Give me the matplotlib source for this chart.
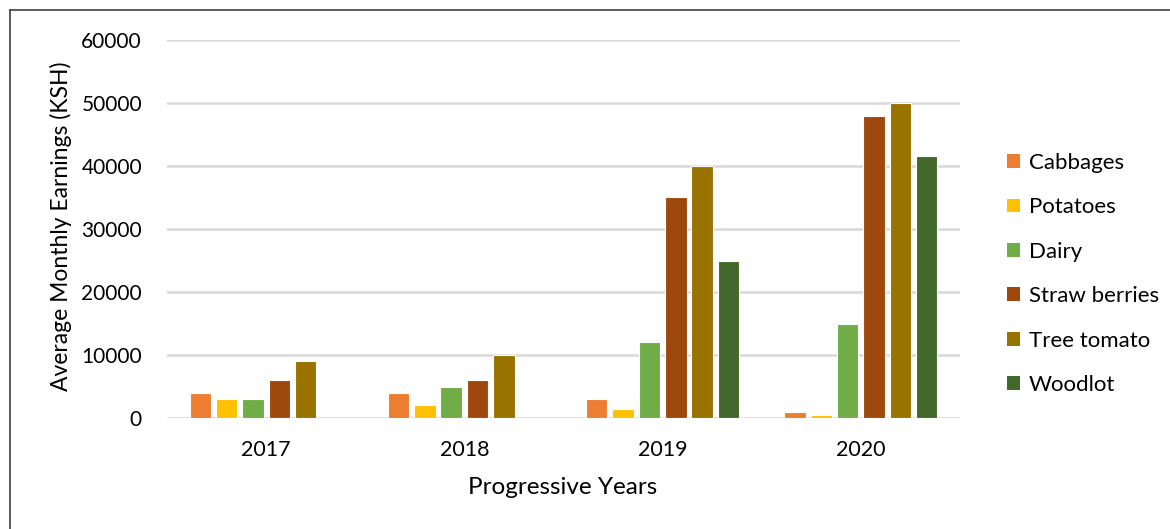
import matplotlib
matplotlib.use("Agg")
import matplotlib.pyplot as plt
from matplotlib.lines import Line2D
from matplotlib.patches import Patch
import numpy as np

plt.rcParams['font.family'] = ['Lato', 'DejaVu Sans']

years = ["2017", "2018", "2019", "2020"]
series_names = ["Cabbages", "Potatoes", "Dairy", "Straw berries", "Tree tomato", "Woodlot"]
cabbages = [4000, 4000, 3000, 900]
potatoes = [3000, 2000, 1500, 450]
dairy = [3000, 5000, 12000, 15000]
strawberries = [6000, 6000, 35000, 48000]
tree_tomato = [9000, 10000, 40000, 50000]
woodlot = [0, 0, 25000, 41600]
series_values = [cabbages, potatoes, dairy, strawberries, tree_tomato, woodlot]
colors = ["#ED7D31", "#FFC000", "#70AD47", "#9E480E", "#997300", "#43682B"]
yticks = [0, 10000, 20000, 30000, 40000, 50000, 60000]

W, H = 1170, 529
fig = plt.figure(figsize=(W/100, H/100), dpi=100)
ax = fig.add_axes([167/W, 1-418/H, (960-167)/W, (418-40)/H])

x = np.arange(len(years))
pitch = 0.133
width = 0.108
for i, (name, vals, c) in enumerate(zip(series_names, series_values, colors)):
    ax.bar(x + (i - 2.5) * pitch, vals, width, color=c, edgecolor='white',
           linewidth=0.8, label=name, zorder=3)

ax.set_xlim(-0.5, 3.5)
ax.set_ylim(0, 60000)
ax.set_yticks(yticks)
ax.set_yticklabels([str(v) for v in yticks], fontsize=15, color='#000000')
ax.set_xticks(x)
ax.set_xticklabels(years, fontsize=15.5)
ax.grid(axis='y', color='#D9D9D9', linewidth=1.8, zorder=0)
ax.set_axisbelow(True)
for s in ax.spines.values():
    s.set_visible(False)
ax.tick_params(axis='both', length=0)
ax.tick_params(axis='y', pad=18)
ax.tick_params(axis='x', pad=16)

fig.text(61/W, 1-226/H, "Average Monthly Earnings (KSH)", fontsize=16.5,
         rotation=90, ha='center', va='center')
fig.text(563/W, 1-488/H, "Progressive Years", fontsize=17.5,
         ha='center', va='center')

handles = [Patch(facecolor=c, edgecolor='none') for c in colors]
leg = fig.legend(handles, series_names, loc='upper left',
                 bbox_to_anchor=(998/W, 1-144/H), frameon=False,
                 fontsize=16, handlelength=0.58, handleheight=0.58,
                 handletextpad=0.4, labelspacing=1.1, borderaxespad=0)

# outer border (left and top visible)
fig.add_artist(Line2D([10/W, 10/W], [0, 1-10/H], transform=fig.transFigure,
                      color='#404040', linewidth=1.2))
fig.add_artist(Line2D([10/W, 1], [1-10/H, 1-10/H], transform=fig.transFigure,
                      color='#404040', linewidth=1.2))

fig.savefig("out.png", dpi=100)
